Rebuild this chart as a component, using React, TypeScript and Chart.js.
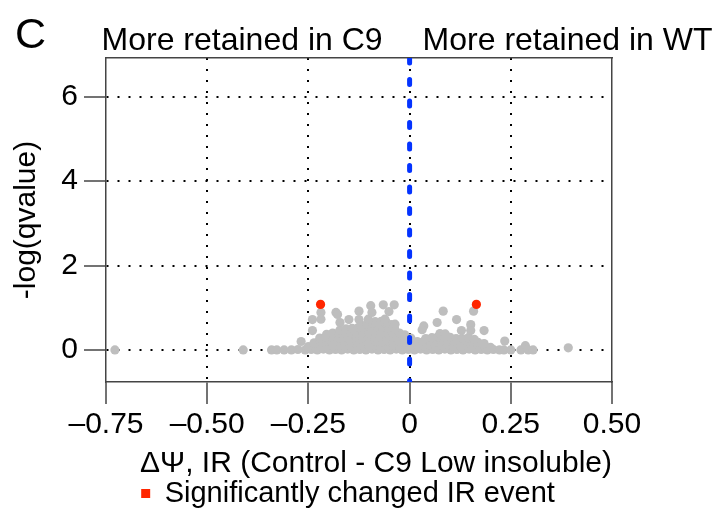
import { useEffect, useRef } from "react"
import { Chart, registerables } from "chart.js"

Chart.register(...registerables)

const FONT = "'Liberation Sans', Arial, Helvetica, sans-serif"

// axis setup
const xRange = [-0.75, 0.5]
const yRange = [-0.76, 6.92]
const xTicks = [-0.75, -0.5, -0.25, 0, 0.25, 0.5]
const xTickLabels = ["–0.75", "–0.50", "–0.25", "0", "0.25", "0.50"]
const yTicks = [0, 2, 4, 6]
const yTickLabels = ["0", "2", "4", "6"]

const panelLabel = "C"
const sideLabels = ["More retained in C9", "More retained in WT"]
const xTitle = "ΔΨ, IR (Control - C9 Low insoluble)"
const yTitle = "-log(qvalue)"
const legendLabel = "Significantly changed IR event"

// significant IR events (red)
const significant: [number, number][] = [
  [-0.22, 1.08],
  [0.165, 1.08],
]

// scattered grey events away from the main cloud
const sparsePoints: [number, number][] = [
  [-0.728, 0.0], [-0.411, 0.0], [-0.341, 0.0], [-0.328, 0.0], [-0.31, 0.0], [-0.292, 0.0],
  [-0.276, 0.01], [-0.268, 0.2], [-0.24, 0.46], [-0.24, 0.72], [-0.219, 0.73], [-0.219, 0.89],
  [-0.182, 0.89], [-0.178, 0.84], [-0.172, 0.65], [-0.15, 0.72], [-0.125, 0.92], [-0.125, 0.72],
  [-0.102, 0.73], [-0.096, 1.05], [-0.093, 0.89], [-0.065, 1.07], [-0.061, 0.73], [-0.051, 0.91],
  [-0.038, 1.07], [-0.036, 0.61], [0.035, 0.57], [0.031, 0.48], [0.068, 0.65], [0.083, 0.92],
  [0.116, 0.72], [0.128, 0.46], [0.151, 0.6], [0.151, 0.46], [0.158, 0.92], [0.184, 0.46],
  [0.235, 0.21], [0.233, 0.0], [0.25, 0.0], [0.275, 0.0], [0.286, 0.1], [0.293, 0.0],
  [0.305, 0.0], [0.392, 0.05],
]

// dense cloud, row by row from the bottom
const cloudBase: [number, number][] = [
  [-0.258, 0.0], [-0.243, 0.01], [-0.228, 0.0], [-0.213, 0.02], [-0.198, 0.0], [-0.183, 0.01],
  [-0.168, 0.0], [-0.153, 0.02], [-0.138, 0.0], [-0.123, 0.01], [-0.108, 0.0], [-0.093, 0.02],
  [-0.078, 0.0], [-0.063, 0.01], [-0.048, 0.0], [-0.033, 0.02], [-0.018, 0.0], [-0.003, 0.01],
  [0.012, 0.0], [0.027, 0.02], [0.042, 0.0], [0.057, 0.01], [0.072, 0.0], [0.087, 0.02],
  [0.102, 0.0], [0.117, 0.01], [0.132, 0.0], [0.147, 0.02], [0.162, 0.0], [0.177, 0.01],
  [0.192, 0.0], [0.207, 0.01], [0.222, 0.0],
]

const cloudRow1: [number, number][] = [
  [-0.25, 0.08], [-0.235, 0.1], [-0.22, 0.11], [-0.205, 0.09], [-0.19, 0.1], [-0.175, 0.11],
  [-0.16, 0.09], [-0.145, 0.1], [-0.13, 0.11], [-0.115, 0.09], [-0.1, 0.1], [-0.085, 0.11],
  [-0.07, 0.09], [-0.055, 0.1], [-0.04, 0.11], [-0.025, 0.09], [-0.01, 0.1], [0.005, 0.11],
  [0.02, 0.09], [0.035, 0.1], [0.05, 0.11], [0.065, 0.09], [0.08, 0.1], [0.095, 0.11],
  [0.11, 0.09], [0.125, 0.1], [0.14, 0.11], [0.155, 0.09], [0.17, 0.1], [0.185, 0.08],
  [0.2, 0.06],
]

const cloudRow2: [number, number][] = [
  [-0.236, 0.17], [-0.221, 0.2], [-0.206, 0.21], [-0.191, 0.19], [-0.176, 0.22], [-0.161, 0.2],
  [-0.146, 0.21], [-0.131, 0.19], [-0.116, 0.22], [-0.101, 0.2], [-0.086, 0.21], [-0.071, 0.19],
  [-0.056, 0.22], [-0.041, 0.2], [-0.026, 0.21], [-0.011, 0.19], [0.004, 0.21], [0.019, 0.2],
  [0.034, 0.2], [0.049, 0.21], [0.064, 0.19], [0.079, 0.22], [0.094, 0.2], [0.109, 0.21],
  [0.124, 0.19], [0.139, 0.21], [0.154, 0.2], [0.169, 0.18], [0.184, 0.15],
]

const cloudRow3: [number, number][] = [
  [-0.222, 0.28], [-0.207, 0.3], [-0.192, 0.31], [-0.177, 0.29], [-0.162, 0.31], [-0.147, 0.3],
  [-0.132, 0.31], [-0.117, 0.29], [-0.102, 0.31], [-0.087, 0.3], [-0.072, 0.31], [-0.057, 0.29],
  [-0.042, 0.31], [-0.027, 0.3], [-0.012, 0.29], [0.003, 0.28], [0.04, 0.27], [0.055, 0.29],
  [0.07, 0.31], [0.085, 0.32], [0.1, 0.3], [0.115, 0.27], [0.13, 0.27], [0.145, 0.29],
  [0.16, 0.25],
]

const cloudRow4: [number, number][] = [
  [-0.205, 0.37], [-0.19, 0.4], [-0.175, 0.41], [-0.16, 0.39], [-0.145, 0.41], [-0.13, 0.4],
  [-0.115, 0.41], [-0.1, 0.39], [-0.085, 0.41], [-0.07, 0.4], [-0.055, 0.41], [-0.04, 0.39],
  [-0.025, 0.4], [-0.012, 0.36], [0.075, 0.39], [0.088, 0.38],
]

const cloudRow5: [number, number][] = [
  [-0.172, 0.47], [-0.157, 0.5], [-0.142, 0.51], [-0.127, 0.53], [-0.112, 0.55], [-0.097, 0.54],
  [-0.082, 0.55], [-0.067, 0.54], [-0.052, 0.53], [-0.037, 0.5],
]

const cloudRow6: [number, number][] = [
  [-0.12, 0.58], [-0.105, 0.62], [-0.09, 0.63], [-0.075, 0.64], [-0.06, 0.63], [-0.045, 0.6],
  [-0.085, 0.67], [-0.07, 0.68], [-0.058, 0.66],
]

// vertical reference line at x = 0
const zeroLine: [number, number][] = [
  [0, yRange[1]],
  [0, yRange[0]],
]

const toXY = (pts: [number, number][]) => pts.map(([x, y]) => ({ x, y }))

const sideText = {
  id: "sideText",
  afterDraw(chart: Chart) {
    const { ctx } = chart
    const x0 = chart.scales.x.getPixelForValue(0)
    ctx.save()
    ctx.fillStyle = "#000"
    ctx.textBaseline = "alphabetic"
    ctx.font = `43px ${FONT}`
    ctx.textAlign = "left"
    ctx.fillText(panelLabel, 15, 48)
    ctx.font = `32px ${FONT}`
    ctx.textAlign = "right"
    ctx.fillText(sideLabels[0], x0 - 27, 50)
    ctx.textAlign = "left"
    ctx.fillText(sideLabels[1], x0 + 13, 50)
    ctx.restore()
  },
}

export default function App() {
  const chartRef = useRef<HTMLCanvasElement>(null)
  const chartInstance = useRef<Chart | null>(null)

  useEffect(() => {
    if (!chartRef.current) return
    const ctx = chartRef.current.getContext("2d")
    if (!ctx) return
    if (chartInstance.current) chartInstance.current.destroy()

    Chart.defaults.font.family = FONT
    Chart.defaults.color = "#000"

    const grey = [
      ...cloudBase,
      ...cloudRow1,
      ...cloudRow2,
      ...cloudRow3,
      ...cloudRow4,
      ...cloudRow5,
      ...cloudRow6,
      ...sparsePoints,
    ]

    chartInstance.current = new Chart(ctx, {
      type: "scatter",
      data: {
        datasets: [
          {
            label: legendLabel,
            data: toXY(significant),
            backgroundColor: "#ff2600",
            borderColor: "#ff2600",
            borderWidth: 0,
            pointRadius: 4.6,
          },
          {
            label: "zero",
            data: toXY(zeroLine),
            showLine: true,
            borderColor: "#0433ff",
            borderWidth: 5,
            borderDash: [5, 16.5],
            borderCapStyle: "round",
            pointRadius: 0,
            clip: 0,
          },
          {
            label: "IR events",
            data: toXY(grey),
            backgroundColor: "#bebebe",
            borderWidth: 0,
            pointRadius: 4.6,
          },
        ],
      },
      options: {
        animation: false,
        responsive: true,
        maintainAspectRatio: false,
        events: [],
        layout: { padding: { top: 58, right: 16, bottom: 0, left: 0 } },
        scales: {
          x: {
            type: "linear",
            position: "bottom",
            min: xRange[0],
            max: xRange[1],
            afterBuildTicks: (axis: any) => {
              axis.ticks = xTicks.map((value) => ({ value }))
            },
            afterFit: (axis: any) => {
              axis.height = 97
            },
            ticks: {
              callback: (_v: any, i: number) => xTickLabels[i],
              font: { size: 30 },
              padding: 3,
              maxRotation: 0,
              autoSkip: false,
            },
            grid: {
              color: (c: any) =>
                c.tick && (c.tick.value === xRange[0] || c.tick.value === xRange[1])
                  ? "rgba(0,0,0,0)"
                  : "#000",
              lineWidth: 2,
              tickLength: 22,
              tickColor: "#444",
              tickWidth: 1.5,
              tickBorderDash: [],
            },
            border: { display: true, color: "#444", width: 1.5, dash: [2, 9] },
            title: {
              display: true,
              text: xTitle,
              align: "end",
              font: { size: 30, lineHeight: 1 },
              padding: { top: 0, bottom: 0 },
            },
          },
          y: {
            type: "linear",
            position: "left",
            min: yRange[0],
            max: yRange[1],
            afterBuildTicks: (axis: any) => {
              axis.ticks = yTicks.map((value) => ({ value }))
            },
            afterFit: (axis: any) => {
              axis.width = 106
            },
            ticks: {
              callback: (_v: any, i: number) => yTickLabels[i],
              font: { size: 30 },
              padding: 6,
            },
            grid: {
              color: "#000",
              lineWidth: 2,
              tickLength: 22,
              tickColor: "#444",
              tickWidth: 1.5,
              tickBorderDash: [],
            },
            border: { display: true, color: "#444", width: 1.5, dash: [2, 9] },
            title: {
              display: true,
              text: yTitle,
              font: { size: 30 },
              padding: { top: 9, bottom: 0 },
            },
          },
          x2: {
            type: "linear",
            axis: "x",
            position: "top",
            min: xRange[0],
            max: xRange[1],
            afterFit: (axis: any) => {
              axis.height = 0
            },
            ticks: { display: false },
            grid: { display: false },
            border: { display: true, color: "#444", width: 1.5 },
          },
          y2: {
            type: "linear",
            axis: "y",
            position: "right",
            min: yRange[0],
            max: yRange[1],
            afterFit: (axis: any) => {
              axis.width = 84
            },
            ticks: { display: false },
            grid: { display: false },
            border: { display: true, color: "#444", width: 1.5 },
          },
        },
        plugins: {
          legend: {
            display: true,
            position: "bottom",
            labels: {
              boxWidth: 9,
              boxHeight: 9,
              padding: 0,
              font: { size: 29 },
              filter: (item: any) => item.datasetIndex === 0,
            },
          },
          tooltip: { enabled: false },
        },
      },
      plugins: [sideText],
    } as any)

    return () => {
      if (chartInstance.current) {
        chartInstance.current.destroy()
        chartInstance.current = null
      }
    }
  }, [])

  return (
    <div style={{ position: "absolute", left: 0, top: 0, width: 712, height: 513, overflow: "hidden" }}>
      <div style={{ position: "relative", width: 712, height: 518 }}>
        <canvas ref={chartRef}></canvas>
      </div>
    </div>
  )
}
